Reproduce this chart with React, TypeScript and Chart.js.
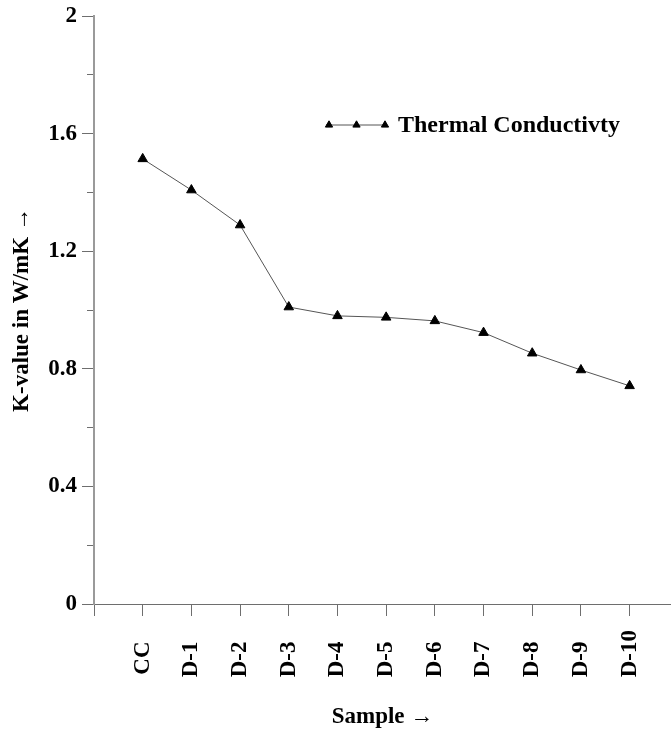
import React, { useEffect, useRef } from 'react';
import { Chart, registerables } from 'chart.js';

Chart.register(...registerables);

const categories = ['CC', 'D-1', 'D-2', 'D-3', 'D-4', 'D-5', 'D-6', 'D-7', 'D-8', 'D-9', 'D-10'];
const kValues = [1.514, 1.408, 1.289, 1.01, 0.98, 0.975, 0.963, 0.923, 0.853, 0.796, 0.742];
const yMajorTicks = [0, 0.4, 0.8, 1.2, 1.6, 2];
const yMinorTicks = [0, 0.2, 0.4, 0.6, 0.8, 1.0, 1.2, 1.4, 1.6, 1.8, 2.0];
const seriesLabel = 'Thermal Conductivty';
const xTitle = 'Sample →';
const yTitle = 'K-value in W/mK →';

const FONT = '"Liberation Serif", "Times New Roman", Times, serif';

const legendPlugin = {
  id: 'lineLegend',
  afterDraw(chart: any) {
    const ctx = chart.ctx as CanvasRenderingContext2D;
    const ds = chart.data.datasets[0];
    const x0 = 326;
    const x1 = 387;
    const y = 125;
    ctx.save();
    ctx.strokeStyle = ds.borderColor;
    ctx.lineWidth = 1;
    ctx.beginPath();
    ctx.moveTo(x0, y);
    ctx.lineTo(x1, y);
    ctx.stroke();
    const r = 4.2;
    [x0 + 3, (x0 + x1) / 2, x1 - 2].forEach((px) => {
      ctx.beginPath();
      ctx.moveTo(px, y - r);
      ctx.lineTo(px + r * 0.866, y + r * 0.5);
      ctx.lineTo(px - r * 0.866, y + r * 0.5);
      ctx.closePath();
      ctx.fillStyle = ds.pointBackgroundColor;
      ctx.fill();
      ctx.strokeStyle = ds.pointBorderColor;
      ctx.stroke();
    });
    ctx.fillStyle = '#000';
    ctx.font = `bold 24px ${FONT}`;
    ctx.textAlign = 'left';
    ctx.textBaseline = 'middle';
    ctx.fillText(ds.label, 398, y + 1);
    ctx.restore();
  },
};

export default function App() {
  const ref = useRef<HTMLCanvasElement | null>(null);

  useEffect(() => {
    if (!ref.current) return;
    const chart = new Chart(ref.current, {
      type: 'line',
      data: {
        datasets: [
          {
            label: seriesLabel,
            data: kValues.map((v, i) => ({ x: i, y: v })),
            borderColor: '#555555',
            borderWidth: 1,
            pointStyle: 'triangle',
            pointRadius: 5.5,
            pointBackgroundColor: '#000000',
            pointBorderColor: '#000000',
            pointBorderWidth: 1,
            tension: 0,
            clip: false,
            xAxisID: 'x',
            yAxisID: 'y',
          },
        ],
      },
      options: {
        responsive: false,
        animation: false,
        layout: { autoPadding: false, padding: { top: 16, right: 0, left: 0, bottom: 0 } },
        plugins: {
          legend: { display: false },
          tooltip: { enabled: false },
        },
        scales: {
          x: {
            type: 'linear',
            position: 'bottom',
            min: -1,
            max: 10.85,
            afterBuildTicks: (scale: any) => {
              scale.ticks = [-1, ...categories.map((_, i) => i)].map((v) => ({ value: v }));
            },
            afterFit: (scale: any) => {
              scale.height = 129;
              scale.paddingRight = 0;
              scale.paddingLeft = 0;
            },
            grid: {
              drawOnChartArea: false,
              drawTicks: true,
              tickLength: 12,
              tickColor: '#6e6e6e',
              tickWidth: 1,
            },
            border: { display: true, color: '#6e6e6e', width: 1 },
            ticks: {
              autoSkip: false,
              minRotation: 90,
              maxRotation: 90,
              padding: 14,
              color: '#000',
              font: { family: FONT, size: 23, weight: 'bold' },
              callback: (value: any) => {
                const lbl = categories[value as number];
                if (lbl === undefined) return '';
                return lbl.length < 4 ? lbl + '  ' : lbl;
              },
            },
            title: {
              display: true,
              text: xTitle,
              color: '#000',
              font: { family: FONT, size: 23, weight: 'bold' },
              padding: { top: 0, bottom: 2 },
            },
          },
          y: {
            type: 'linear',
            position: 'left',
            weight: 1,
            min: 0,
            max: 2,
            afterBuildTicks: (scale: any) => {
              scale.ticks = yMajorTicks.map((v) => ({ value: v }));
            },
            afterFit: (scale: any) => {
              scale.width = 94;
              scale.paddingTop = 0;
              scale.paddingBottom = 0;
            },
            grid: {
              drawOnChartArea: false,
              drawTicks: true,
              tickLength: 12,
              tickColor: '#6e6e6e',
              tickWidth: 1,
            },
            border: { display: true, color: '#9a9a9a', width: 2 },
            ticks: {
              padding: 5,
              color: '#000',
              font: { family: FONT, size: 23, weight: 'bold' },
              callback: (value: any) => String(Number(value)),
            },
            title: {
              display: true,
              text: yTitle,
              color: '#000',
              font: { family: FONT, size: 23, weight: 'bold' },
              padding: { top: 8, bottom: 0 },
            },
          },
          yMinor: {
            type: 'linear',
            position: 'left',
            weight: 0,
            min: 0,
            max: 2,
            afterBuildTicks: (scale: any) => {
              scale.ticks = yMinorTicks.map((v) => ({ value: v }));
            },
            afterFit: (scale: any) => {
              scale.width = 0;
              scale.paddingTop = 0;
              scale.paddingBottom = 0;
            },
            grid: {
              drawOnChartArea: false,
              drawTicks: true,
              tickLength: 7,
              tickColor: '#6e6e6e',
              tickWidth: 1,
            },
            border: { display: false },
            ticks: { display: false },
            title: { display: false },
          },
        },
      },
      plugins: [legendPlugin],
    } as any);
    return () => chart.destroy();
  }, []);

  return (
    <div style={{ position: 'fixed', left: 0, top: 0, width: 671, height: 733, background: '#fff' }}>
      <canvas ref={ref} width={671} height={733} style={{ width: 671, height: 733, display: 'block' }} />
    </div>
  );
}
